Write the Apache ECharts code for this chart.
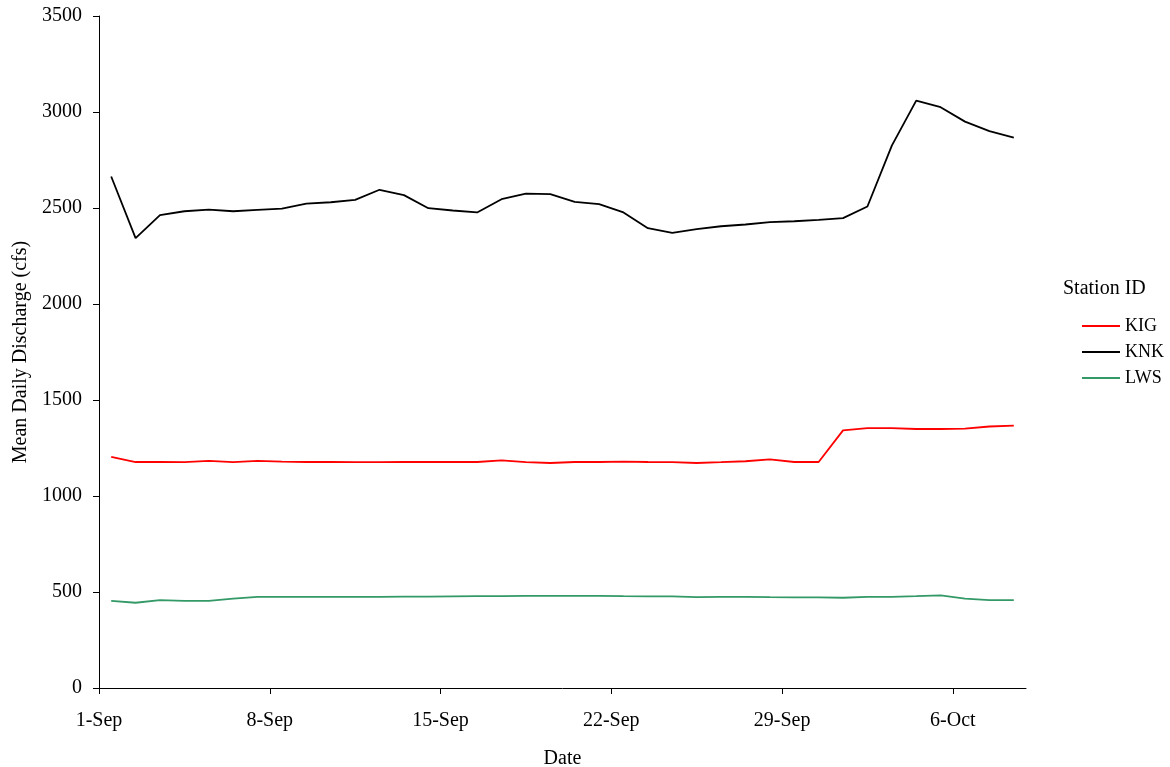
<!DOCTYPE html>
<html>
<head>
<meta charset="utf-8">
<script src="https://cdn.jsdelivr.net/npm/echarts@6/dist/echarts.min.js"></script>
<style>
  html, body { margin: 0; padding: 0; background: #fff; }
  #chart { width: 1170px; height: 767px; }
</style>
</head>
<body>
<div id="chart"></div>
<script>
// daily dates, 1-Sep .. 8-Oct
const dates = ['1-Sep','2-Sep','3-Sep','4-Sep','5-Sep','6-Sep','7-Sep','8-Sep','9-Sep','10-Sep',
  '11-Sep','12-Sep','13-Sep','14-Sep','15-Sep','16-Sep','17-Sep','18-Sep','19-Sep','20-Sep',
  '21-Sep','22-Sep','23-Sep','24-Sep','25-Sep','26-Sep','27-Sep','28-Sep','29-Sep','30-Sep',
  '1-Oct','2-Oct','3-Oct','4-Oct','5-Oct','6-Oct','7-Oct','8-Oct']
const tickLabels = ['1-Sep','8-Sep','15-Sep','22-Sep','29-Sep','6-Oct']

const kig = [1204,1177,1177,1176,1183,1176,1183,1179,1177,1177,
  1176,1176,1177,1177,1177,1177,1186,1176,1172,1177,
  1177,1179,1177,1176,1172,1176,1181,1191,1177,1177,
  1342,1354,1354,1349,1349,1351,1362,1367]
const knk = [2664,2343,2463,2483,2492,2483,2490,2497,2523,2530,
  2542,2595,2567,2499,2487,2477,2546,2575,2572,2532,
  2520,2477,2395,2371,2390,2405,2414,2426,2431,2438,
  2447,2508,2825,3059,3025,2950,2900,2867]
const lws = [454,444,458,454,454,465,475,475,475,475,
  475,475,476,476,477,478,479,480,480,480,
  480,478,477,477,473,475,475,473,472,472,
  470,475,475,478,482,465,458,458]

// each day sits in the middle of its slot on the date axis
const pts = arr => arr.map((v, i) => [i + 0.5, v])

const font = 'Liberation Serif'
const myChart = echarts.init(document.getElementById('chart'))
myChart.setOption({
  animation: false,
  textStyle: { fontFamily: font, color: '#000' },
  title: {
    text: 'Station ID',
    left: 1058,
    top: 274,
    textStyle: { fontFamily: font, fontSize: 20, fontWeight: 'normal', color: '#000' }
  },
  legend: {
    orient: 'vertical',
    left: 1082,
    top: 317,
    padding: 0,
    itemWidth: 38,
    itemHeight: 2,
    itemGap: 8,
    icon: 'rect',
    textStyle: { fontFamily: font, fontSize: 18, color: '#000' },
    data: ['KIG', 'KNK', 'LWS']
  },
  grid: { left: 99, right: 144, top: 16, bottom: 79, outerBoundsMode: 'none', containLabel: false },
  xAxis: {
    type: 'value',
    min: 0,
    max: dates.length,
    interval: 7,
    name: 'Date',
    nameLocation: 'middle',
    nameGap: 61,
    nameTextStyle: { fontFamily: font, fontSize: 20, color: '#000' },
    axisLine: { lineStyle: { color: '#000', width: 1 } },
    axisTick: { show: true, length: 6, lineStyle: { color: '#000' } },
    axisLabel: {
      fontFamily: font, fontSize: 20, color: '#000', margin: 23,
      showMaxLabel: false,
      formatter: v => (v % 7 === 0 && tickLabels[v / 7]) ? tickLabels[v / 7] : ''
    },
    splitLine: { show: false }
  },
  yAxis: {
    type: 'value',
    min: 0,
    max: 3500,
    interval: 500,
    name: 'Mean Daily Discharge (cfs)',
    nameLocation: 'middle',
    nameGap: 68,
    nameTextStyle: { fontFamily: font, fontSize: 20, color: '#000' },
    axisLine: { show: true, lineStyle: { color: '#000', width: 1 } },
    axisTick: { show: true, length: 6, lineStyle: { color: '#000' } },
    axisLabel: { fontFamily: font, fontSize: 20, color: '#000', margin: 17, formatter: v => String(v) },
    splitLine: { show: false }
  },
  series: [
    { name: 'KIG', type: 'line', data: pts(kig), showSymbol: false, color: '#ff0000', lineStyle: { width: 1.8 } },
    { name: 'KNK', type: 'line', data: pts(knk), showSymbol: false, color: '#000000', lineStyle: { width: 1.8 } },
    { name: 'LWS', type: 'line', data: pts(lws), showSymbol: false, color: '#339966', lineStyle: { width: 1.8 } }
  ]
})
</script>
</body>
</html>
